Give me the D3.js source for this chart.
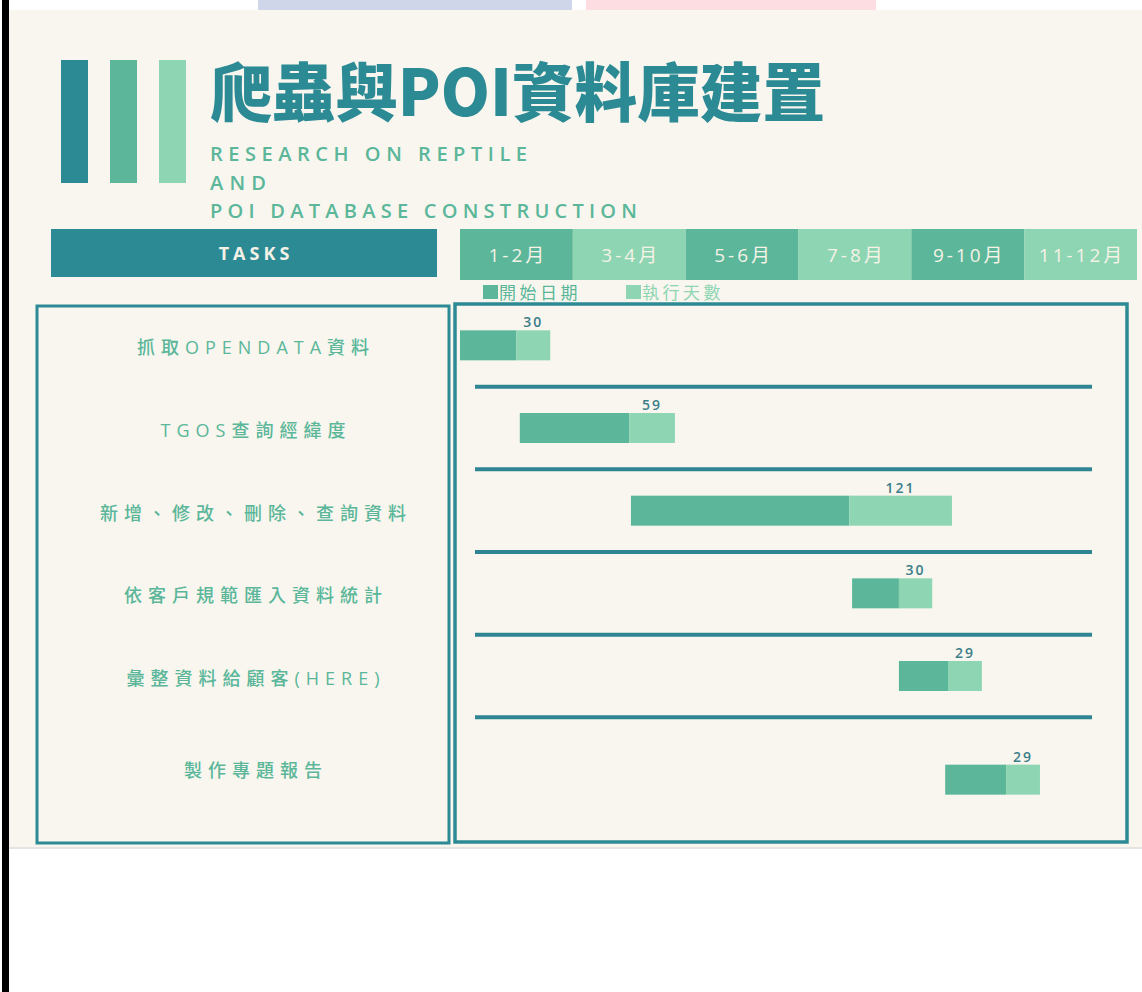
<!DOCTYPE html>
<html lang="zh-Hant">
<head>
    <meta charset="utf-8">
    <title>爬蟲與POI資料庫建置</title>
    <script src="https://d3js.org/d3.v7.min.js"></script>
    <style>
        body { margin: 0; background: #fff; }
        svg { display: block; }
        text { font-family: "Open Sans", "Noto Sans CJK TC", sans-serif; }
    </style>
</head>
<body>

<script>
    // chart data
    const titleText = "爬蟲與POI資料庫建置";
    const subtitleLines = ["RESEARCH ON REPTILE", "AND", "POI DATABASE CONSTRUCTION"];
    const months = ["1-2月", "3-4月", "5-6月", "7-8月", "9-10月", "11-12月"];
    const legendLabels = ["開始日期", "執行天數"];
    const tasks = ["抓取OPENDATA資料", "TGOS查詢經緯度", "新增、修改、刪除、查詢資料",
                   "依客戶規範匯入資料統計", "彙整資料給顧客(HERE)", "製作專題報告"];
    // bar segments in months (0 = start of Jan)
    const startFrom = [0, 1.06, 3.03, 6.95, 7.78, 8.6];
    const startTo   = [1.0, 3.0, 6.9, 7.78, 8.65, 9.68];
    const execTo    = [1.6, 3.81, 8.72, 8.37, 9.25, 10.28];
    const execDays  = [30, 59, 121, 30, 29, 29];

    const teal = "#2c8a95", green = "#5bb69a", light = "#8ed5b3", cream = "#f8f6ee";

    const W = 1142, H = 992;
    const svg = d3.select("body").append("svg").attr("width", W).attr("height", H);

    // slide background + the bits of page around it
    svg.append("rect").attr("x", 258).attr("y", 0).attr("width", 314).attr("height", 12).attr("fill", "#cfd6ea");
    svg.append("rect").attr("x", 586).attr("y", 0).attr("width", 290).attr("height", 12).attr("fill", "#fddde1");
    svg.append("rect").attr("x", 8).attr("y", 10).attr("width", W - 8).attr("height", 837).attr("fill", cream);
    svg.append("line").attr("x1", 8).attr("x2", W).attr("y1", 848).attr("y2", 848)
        .attr("stroke", "#e4e4e2").attr("stroke-width", 2);
    svg.append("rect").attr("x", 2).attr("y", 0).attr("width", 7).attr("height", H).attr("fill", "#000");

    // header bars
    const barColors = [teal, green, light];
    svg.selectAll(".deco").data(barColors).join("rect")
        .attr("x", (d, i) => 61 + i * 49).attr("y", 60)
        .attr("width", 27).attr("height", 123)
        .attr("fill", d => d);

    svg.append("text")
        .attr("x", 210).attr("y", 116)
        .attr("textLength", 615).attr("lengthAdjust", "spacingAndGlyphs")
        .style("font-family", "'Noto Sans CJK TC', sans-serif")
        .style("font-weight", 900).style("font-size", "64px")
        .attr("fill", teal).text(titleText);

    const subLen = [317, 56, 427];
    svg.selectAll(".sub").data(subtitleLines).join("text")
        .attr("x", 210).attr("y", (d, i) => 161 + i * 28.5)
        .attr("textLength", (d, i) => subLen[i]).attr("lengthAdjust", "spacing")
        .style("font-size", "20px").style("font-weight", 600)
        .attr("fill", green).text(d => d);

    // TASKS header
    svg.append("rect").attr("x", 51).attr("y", 229).attr("width", 386).attr("height", 48).attr("fill", teal);
    svg.append("text").attr("x", 256).attr("y", 260).attr("text-anchor", "middle")
        .style("font-size", "18px").style("font-weight", 700).style("letter-spacing", "4px")
        .attr("fill", "#f4f1e6").text("TASKS");

    // month header
    const x = d3.scaleLinear().domain([0, 12]).range([460, 1137]);
    const mh = svg.append("g");
    mh.selectAll("rect").data(months).join("rect")
        .attr("x", (d, i) => x(i * 2)).attr("y", 229)
        .attr("width", (d, i) => x(i * 2 + 2) - x(i * 2)).attr("height", 51)
        .attr("fill", (d, i) => i % 2 ? light : green);
    mh.selectAll("text").data(months).join("text")
        .attr("x", (d, i) => x(i * 2 + 1) + 1.5).attr("y", 262)
        .attr("text-anchor", "middle")
        .style("font-size", "19px").style("letter-spacing", "3px")
        .attr("fill", "#f5f2e6").text(d => d);

    // legend
    const lg = svg.selectAll(".lg").data(legendLabels).join("g")
        .attr("transform", (d, i) => `translate(${483 + i * 143},285)`);
    lg.append("rect").attr("width", 15).attr("height", 14).attr("fill", (d, i) => i ? light : green);
    lg.append("text").attr("x", 16).attr("y", 14)
        .style("font-size", "17px").style("letter-spacing", "3.5px")
        .attr("fill", (d, i) => i ? light : green).text(d => d);

    // boxes
    svg.append("rect").attr("x", 37).attr("y", 306).attr("width", 412).attr("height", 537)
        .attr("fill", "none").attr("stroke", teal).attr("stroke-width", 3);
    svg.append("rect").attr("x", 455).attr("y", 304).attr("width", 672).attr("height", 538)
        .attr("fill", "none").attr("stroke", teal).attr("stroke-width", 3.5);

    // rows
    const y = d3.scaleBand().domain(tasks).range([304, 800]);
    const rowTop = t => y(t);
    const rowBottom = (t, i) => i < tasks.length - 1 ? y(t) + y.bandwidth() : 842;
    const rowMid = (t, i) => (rowTop(t) + rowBottom(t, i)) / 2;
    const barH = 30;

    svg.selectAll(".sep").data(tasks.slice(1)).join("line")
        .attr("x1", 475).attr("x2", 1092)
        .attr("y1", d => y(d)).attr("y2", d => y(d))
        .attr("stroke", "#2f8592").attr("stroke-width", 4);

    svg.selectAll(".task").data(tasks).join("text")
        .attr("x", 256).attr("y", (d, i) => rowMid(d, i) + (i < tasks.length - 1 ? 9 : -3))
        .attr("text-anchor", "middle")
        .style("font-size", "18px").style("font-weight", 500).style("letter-spacing", "6px")
        .attr("fill", green).text(d => d);

    const bars = svg.selectAll(".bar").data(tasks).join("g");
    bars.append("rect")
        .attr("x", (d, i) => x(startFrom[i])).attr("y", (d, i) => rowMid(d, i) - barH / 2)
        .attr("width", (d, i) => x(startTo[i]) - x(startFrom[i])).attr("height", barH)
        .attr("fill", green);
    bars.append("rect")
        .attr("x", (d, i) => x(startTo[i])).attr("y", (d, i) => rowMid(d, i) - barH / 2)
        .attr("width", (d, i) => x(execTo[i]) - x(startTo[i])).attr("height", barH)
        .attr("fill", light);
    bars.append("text")
        .attr("x", (d, i) => (x(startTo[i]) + x(execTo[i])) / 2)
        .attr("y", (d, i) => rowMid(d, i) - barH / 2 - 3)
        .attr("text-anchor", "middle")
        .style("font-size", "14px").style("font-weight", 600).style("letter-spacing", "2px")
        .attr("fill", "#3c7e8a").text((d, i) => execDays[i]);
</script>

</body>
</html>
